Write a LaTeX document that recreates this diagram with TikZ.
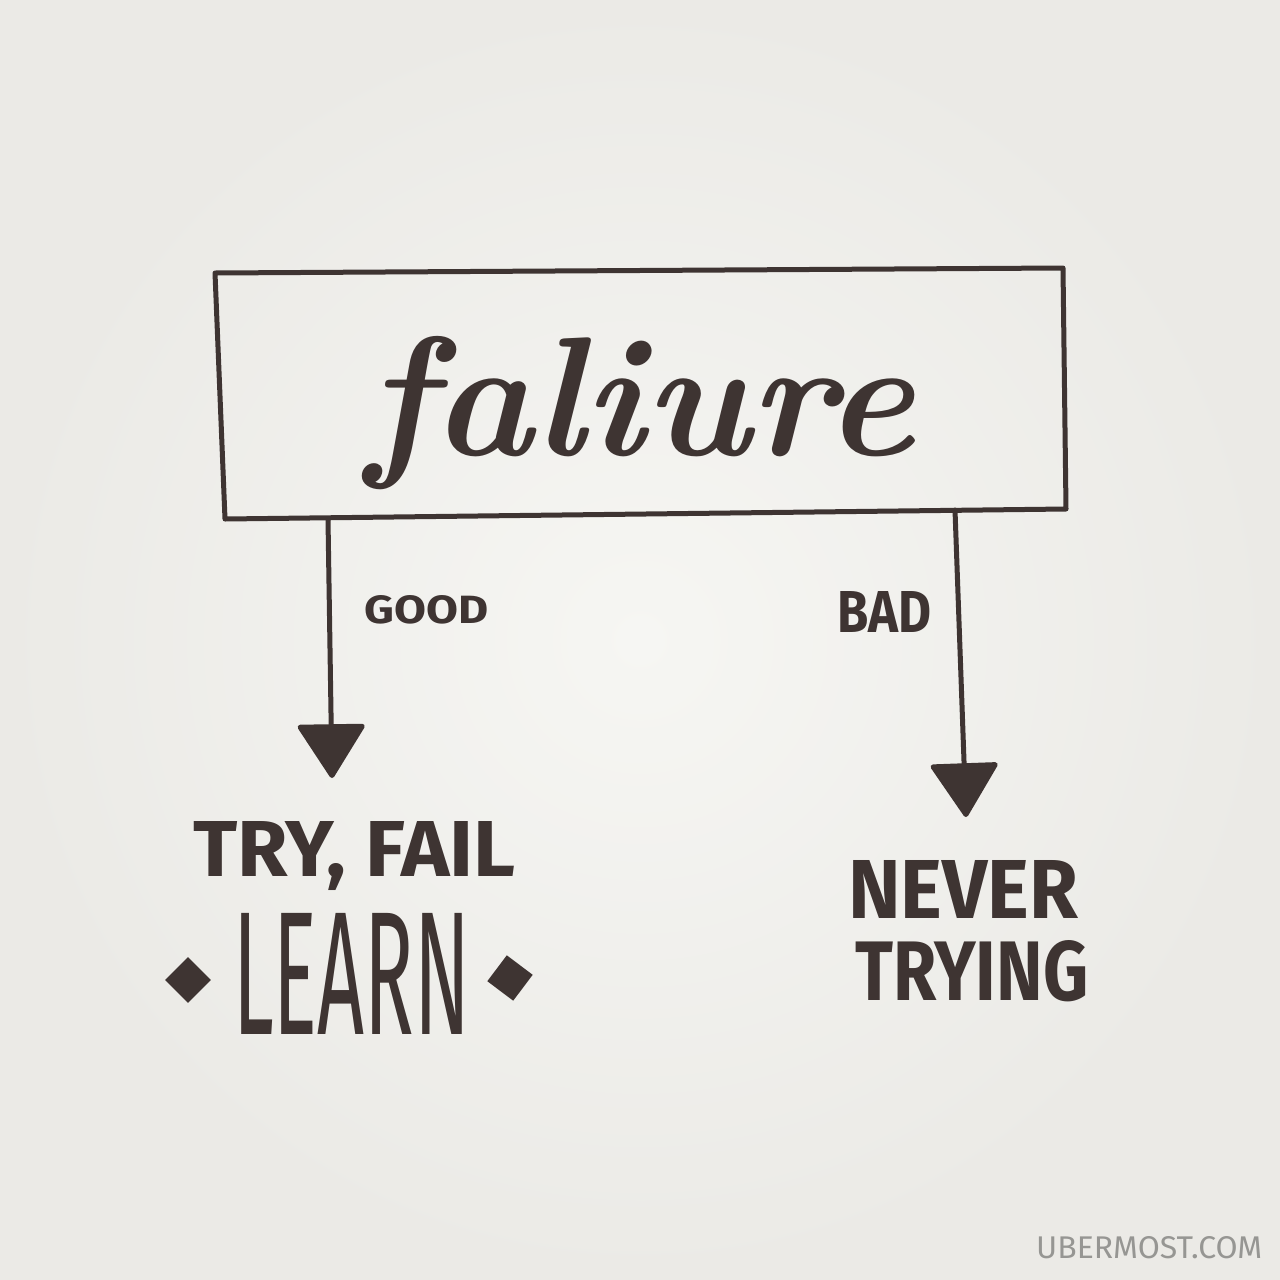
\documentclass[tikz,border=0pt]{standalone}
\usepackage{fontspec}
\usepackage{graphicx}
\setsansfont{Fira Sans}
\usetikzlibrary{arrows.meta,shapes.geometric}
\definecolor{ink}{RGB}{62,52,50}
\definecolor{paperin}{RGB}{246,246,243}
\definecolor{paperout}{RGB}{235,234,230}
\definecolor{signgray}{RGB}{150,150,147}
\newcommand\inkfit[3]{\resizebox{#1}{#2}{#3}}
\tikzset{
  lbl/.style={inner sep=0pt, text=ink, font=\sffamily\bfseries},
  thinlbl/.style={inner sep=0pt, text=ink, font=\sffamily},
  frame/.style={draw=ink, line width=5pt, line join=round, line cap=round},
  flow/.style={draw=ink, line width=5pt, line cap=round,
    -{Triangle[width=70pt,length=56pt,round]}},
  gem/.style={diamond, fill=ink, inner sep=0pt, minimum width=46pt, minimum height=46pt}
}
\begin{document}
\begin{tikzpicture}[x=1pt,y=-1pt]
\useasboundingbox (0,0) rectangle (1280,1280);
\shade[inner color=paperin, outer color=paperout] (0,0) rectangle (1280,1280);
% box
\draw[frame] (215,273) -- (1063,268) -- (1066,509) -- (225,519) -- cycle;
\node[inner sep=0pt, text=ink, anchor=base,
  font=\fontsize{100}{100}\selectfont\bfseries\itshape] (title) at (640,455) {\inkfit{550pt}{!}{faliure}};
% arrows
\coordinate (gs) at (328,519);
\coordinate (ge) at (332,778);
\coordinate (bs) at (955,510);
\coordinate (be) at (966,817);
\draw[flow] (gs) -- (ge);
\draw[flow] (bs) -- (be);
% labels
\node[lbl, anchor=base west] (good) at (364,623) {\inkfit{124pt}{28pt}{GOOD}};
\node[lbl, anchor=base west] (bad) at (837,632) {\inkfit{94pt}{41pt}{BAD}};
\node[lbl, anchor=base west] (tryfail) at (193,876) {\inkfit{322pt}{55pt}{TRY, FAIL}};
\node[thinlbl, anchor=base west] (learn) at (233,1034) {\inkfit{237pt}{121pt}{LEARN}};
\node[gem] (dl) at (188,980) {};
\node[gem, rotate=8] (dr) at (510,978) {};
\node[lbl, anchor=base west] (never) at (848,918) {\inkfit{230pt}{58pt}{NEVER}};
\node[lbl, anchor=base west] (trying) at (855,1000) {\inkfit{233pt}{60pt}{TRYING}};
\node[inner sep=0pt, anchor=base west, text=signgray, font=\sffamily] (sign) at (1036,1258) {\inkfit{226pt}{22pt}{UBERMOST.COM}};
\end{tikzpicture}
\end{document}
